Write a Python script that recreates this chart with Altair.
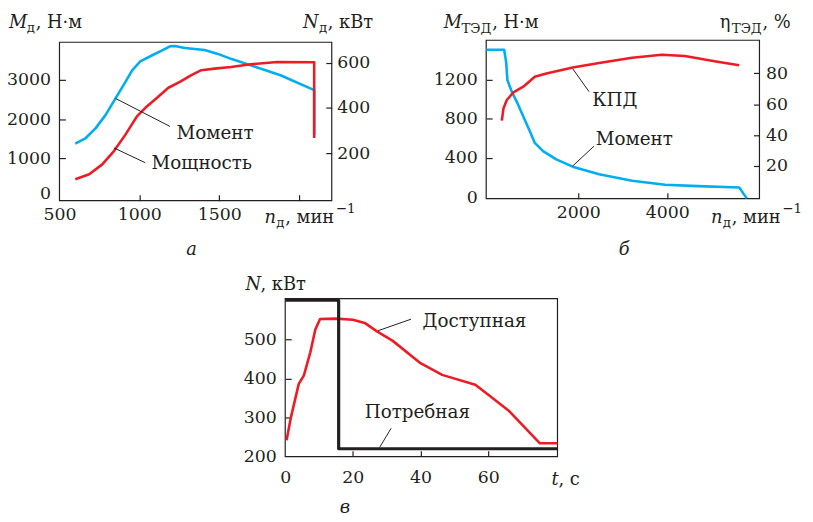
import altair as alt
import pandas as pd

W, H = 805, 514
FONT = "DejaVu Serif"
BLUE = "#00AEEF"
RED = "#ED1C24"
BLACK = "#231F20"
FS = 17.5      # tick labels
FA = 18.5      # curve annotations
FT = 18        # axis titles
SUB = 13.5     # subscripts / superscripts

# ---------------- data ----------------
# panel a
a_rpm_m = [599, 665, 727, 789, 851, 913, 955, 1006, 1078, 1140, 1192, 1223, 1285, 1409, 1492, 1574, 1698, 1884, 2095, 2095]
a_moment = [1379, 1520, 1772, 2110, 2528, 2949, 3244, 3471, 3622, 3748, 3857, 3865, 3814, 3764, 3663, 3537, 3370, 3118, 2740, 1606]
a_rpm_n = [599, 686, 768, 841, 913, 985, 1047, 1120, 1182, 1254, 1326, 1388, 1471, 1574, 1698, 1864, 2095, 2095]
a_power = [84, 106, 150, 209, 282, 363, 407, 451, 490, 516, 546, 568, 575, 582, 594, 604, 603, 267]

# panel b
b_rpm_m = [-67, 333, 378, 407, 504, 615, 763, 911, 1022, 1207, 1504, 1874, 2467, 3207, 3948, 4689, 5615, 5785]
b_moment = [1503, 1503, 1379, 1194, 1076, 975, 823, 672, 553, 470, 386, 311, 234, 167, 126, 113, 99, -12]
b_rpm_eff = [281, 319, 393, 541, 763, 1022, 1281, 1874, 2467, 3207, 3874, 4393, 5060, 5615]
b_eff = [49.3, 57.4, 62.7, 67.6, 71.3, 77.7, 79.8, 83.7, 86.7, 90.1, 92.0, 91.2, 87.8, 85.2]

# panel c
c_t_avail = [0.4, 1.6, 4.0, 5.5, 7.4, 8.9, 10.3, 15, 20, 23.5, 27, 31.8, 40, 46.4, 56.2, 61, 66, 75.3, 80.5]
c_avail = [242, 297, 386, 407, 466, 525, 552, 553, 550, 542, 521, 496, 439, 409, 384, 352, 318, 234, 234]
c_t_req = [0, 15.8, 15.8, 80.5]
c_req = [600, 600, 220, 220]

# annotation labels (data coordinates)
a_labels = ["Момент", "Мощность"]
a_lab_x = [1233, 1077]
a_lab_y = [1638, 891]
a_lead = [(851, 2529, 1192, 1815), (841, 1269, 1037, 891)]
b_lab_eff = ("КПД", 2314, 62.8)
b_lead_eff = (1873, 83.0, 2241, 68.1)
b_lab_m = ("Момент", 2390, 588)
b_lead_m = (1873, 318, 2352, 520)
c_labels = ["Доступная", "Потребная"]
c_lab_x = [40.6, 23.5]
c_lab_y = [546, 314]
c_lead = [(27.4, 521.8, 37.2, 551.5), (27.9, 223.3, 31.3, 272.2)]

# ---------------- scales (view coordinates = page - 8) ----------------
def S(domain, r):
    return alt.Scale(domain=domain, range=r, nice=False, zero=False)

xA = S([500, 2205], [52, 327])
yAL = S([-75, 3960], [192, 32])
yAR = S([-11, 692], [192, 32])
xB = S([-70, 6070], [483, 759])
yBL = S([-15, 1600], [190, 30])
yBR = S([-1.2, 101.4], [190, 30])
xC = S([0, 80.5], [280, 555])
yC = S([200, 604], [450.5, 291])


def ax(orient, offset, values, labels=True, ticks=False, pad=6, loff=0):
    return alt.Axis(orient=orient, offset=offset, values=values, domain=False, grid=False,
                    title=None, labels=labels, ticks=ticks, format="d", labelFlush=False,
                    labelFont=FONT, labelFontSize=FS, labelColor=BLACK, labelPadding=pad,
                    labelOffset=loff, tickColor=BLACK, tickSize=6, tickWidth=1.2)


def axis_layer(channel, scale, axis, v):
    df = pd.DataFrame({"v": [v]})
    if channel == "x":
        enc = {"x": alt.X("v:Q", scale=scale, axis=axis)}
    else:
        enc = {"y": alt.Y("v:Q", scale=scale, axis=axis)}
    return alt.Chart(df).mark_point(opacity=0).encode(**enc)


def line(xs, ys, xs_scale, ys_scale, color, width=2.6):
    df = pd.DataFrame({"x": xs, "y": ys, "i": list(range(len(xs)))})
    return alt.Chart(df).mark_line(color=color, strokeWidth=width, strokeJoin="round").encode(
        x=alt.X("x:Q", scale=xs_scale, axis=None),
        y=alt.Y("y:Q", scale=ys_scale, axis=None),
        order="i:Q")


def frame(xs, ys):
    df = pd.DataFrame({"x": [xs.domain[0]], "x2": [xs.domain[1]], "y": [ys.domain[0]], "y2": [ys.domain[1]]})
    return alt.Chart(df).mark_rect(fillOpacity=0, stroke=BLACK, strokeWidth=1.2).encode(
        x=alt.X("x:Q", scale=xs, axis=None), x2="x2:Q",
        y=alt.Y("y:Q", scale=ys, axis=None), y2="y2:Q")


def leader(seg, xs, ys):
    df = pd.DataFrame({"x": [seg[0]], "y": [seg[1]], "x2": [seg[2]], "y2": [seg[3]]})
    return alt.Chart(df).mark_rule(color=BLACK, strokeWidth=1).encode(
        x=alt.X("x:Q", scale=xs, axis=None), x2="x2:Q",
        y=alt.Y("y:Q", scale=ys, axis=None), y2="y2:Q")


def label(texts, xv, yv, xs, ys):
    df = pd.DataFrame({"t": texts, "x": xv, "y": yv})
    return alt.Chart(df).mark_text(align="left", baseline="middle", font=FONT, fontSize=FA, color=BLACK).encode(
        x=alt.X("x:Q", scale=xs, axis=None), y=alt.Y("y:Q", scale=ys, axis=None), text="t:N")


def txt(s, x, y, size=FT, italic=False):
    return alt.Chart(pd.DataFrame({"s": [s]})).mark_text(
        align="left", baseline="alphabetic", font=FONT, fontSize=size,
        fontStyle="italic" if italic else "normal", color=BLACK).encode(
        x=alt.value(x - 8), y=alt.value(y - 8), text="s:N")


layers = []

# ---------- panel a ----------
layers += [
    frame(xA, yAL),
    axis_layer("y", yAL, ax("left", -52, [1000, 2000, 3000], pad=9), 0),
    axis_layer("y", yAL, ax("left", -52, [0], pad=9, loff=-4), 0),
    axis_layer("y", yAL, ax("right", 52 - W, [1000, 2000, 3000], labels=False, ticks=True), 0),
    axis_layer("y", yAR, ax("right", 327 - W, [200, 400, 600], pad=5), 0),
    axis_layer("y", yAR, ax("left", -327, [200, 400, 600], labels=False, ticks=True), 0),
    axis_layer("x", xA, ax("bottom", 192 - H, [500, 1000, 1500], pad=5), 500),
    axis_layer("x", xA, ax("top", -192, [1000, 1500, 2000], labels=False, ticks=True), 500),
    line(a_rpm_m, a_moment, xA, yAL, BLUE),
    line(a_rpm_n, a_power, xA, yAR, RED),
    leader(a_lead[0], xA, yAL), leader(a_lead[1], xA, yAL),
    label(a_labels, a_lab_x, a_lab_y, xA, yAL),
    txt("M", 9, 26, italic=True), txt("д", 27, 30, SUB), txt(", Н·м", 36, 26),
    txt("N", 306, 26, italic=True), txt("д", 322, 30, SUB), txt(", кВт", 331, 26),
    txt("n", 267, 223, italic=True), txt("д", 279, 227, SUB), txt(", мин", 288, 223), txt("−1", 339, 212, SUB),
    txt("а", 188, 255, italic=True),
]

# ---------- panel b ----------
layers += [
    frame(xB, yBL),
    axis_layer("y", yBL, ax("left", -483, [0, 400, 800, 1200], pad=9), 0),
    axis_layer("y", yBL, ax("right", 483 - W, [400, 800, 1200], labels=False, ticks=True), 0),
    axis_layer("y", yBR, ax("right", 759 - W, [20, 40, 60, 80], pad=6), 0),
    axis_layer("y", yBR, ax("left", -759, [20, 40, 60, 80], labels=False, ticks=True), 0),
    axis_layer("x", xB, ax("bottom", 190 - H, [2000, 4000], pad=5), 0),
    axis_layer("x", xB, ax("top", -190, [2000, 4000], labels=False, ticks=True), 0),
    line(b_rpm_m, b_moment, xB, yBL, BLUE),
    line(b_rpm_eff, b_eff, xB, yBR, RED),
    leader(b_lead_eff, xB, yBR), leader(b_lead_m, xB, yBL),
    label([b_lab_eff[0]], [b_lab_eff[1]], [b_lab_eff[2]], xB, yBR),
    label([b_lab_m[0]], [b_lab_m[1]], [b_lab_m[2]], xB, yBL),
    txt("M", 448, 26, italic=True), txt("ТЭД", 466, 31, SUB), txt(", Н·м", 497, 26),
    txt("η", 727, 26), txt("ТЭД", 739, 31, SUB), txt(", %", 770, 26),
    txt("n", 718, 223, italic=True), txt("д", 730, 227, SUB), txt(", мин", 739, 223), txt("−1", 790, 212, SUB),
    txt("б", 625, 255, italic=True),
]

# ---------- panel c ----------
layers += [
    frame(xC, yC),
    axis_layer("y", yC, ax("left", -280, [200, 300, 400, 500], pad=9), 200),
    axis_layer("y", yC, ax("right", 280 - W, [300, 400, 500], labels=False, ticks=True), 200),
    axis_layer("x", xC, ax("bottom", 450.5 - H, [0, 20, 40, 60], pad=12), 0),
    axis_layer("x", xC, ax("top", -450.5, [20, 40, 60], labels=False, ticks=True), 0),
    line(c_t_avail, c_avail, xC, yC, RED),
    line(c_t_req, c_req, xC, yC, BLACK, 3.2),
    leader(c_lead[0], xC, yC), leader(c_lead[1], xC, yC),
    label(c_labels, c_lab_x, c_lab_y, xC, yC),
    txt("N", 248, 290, italic=True), txt(", кВт", 263, 290),
    txt("t", 557, 487, italic=True), txt(", с", 564, 487),
    txt("в", 343, 515, italic=True),
]

chart = alt.layer(*layers).resolve_scale(x="independent", y="independent").properties(
    width=W, height=H, autosize=alt.AutoSizeParams(type="none"), padding=0, background="white"
).configure_view(stroke=None)

chart.save("out.html", embed_options={"renderer": "svg", "actions": False})
